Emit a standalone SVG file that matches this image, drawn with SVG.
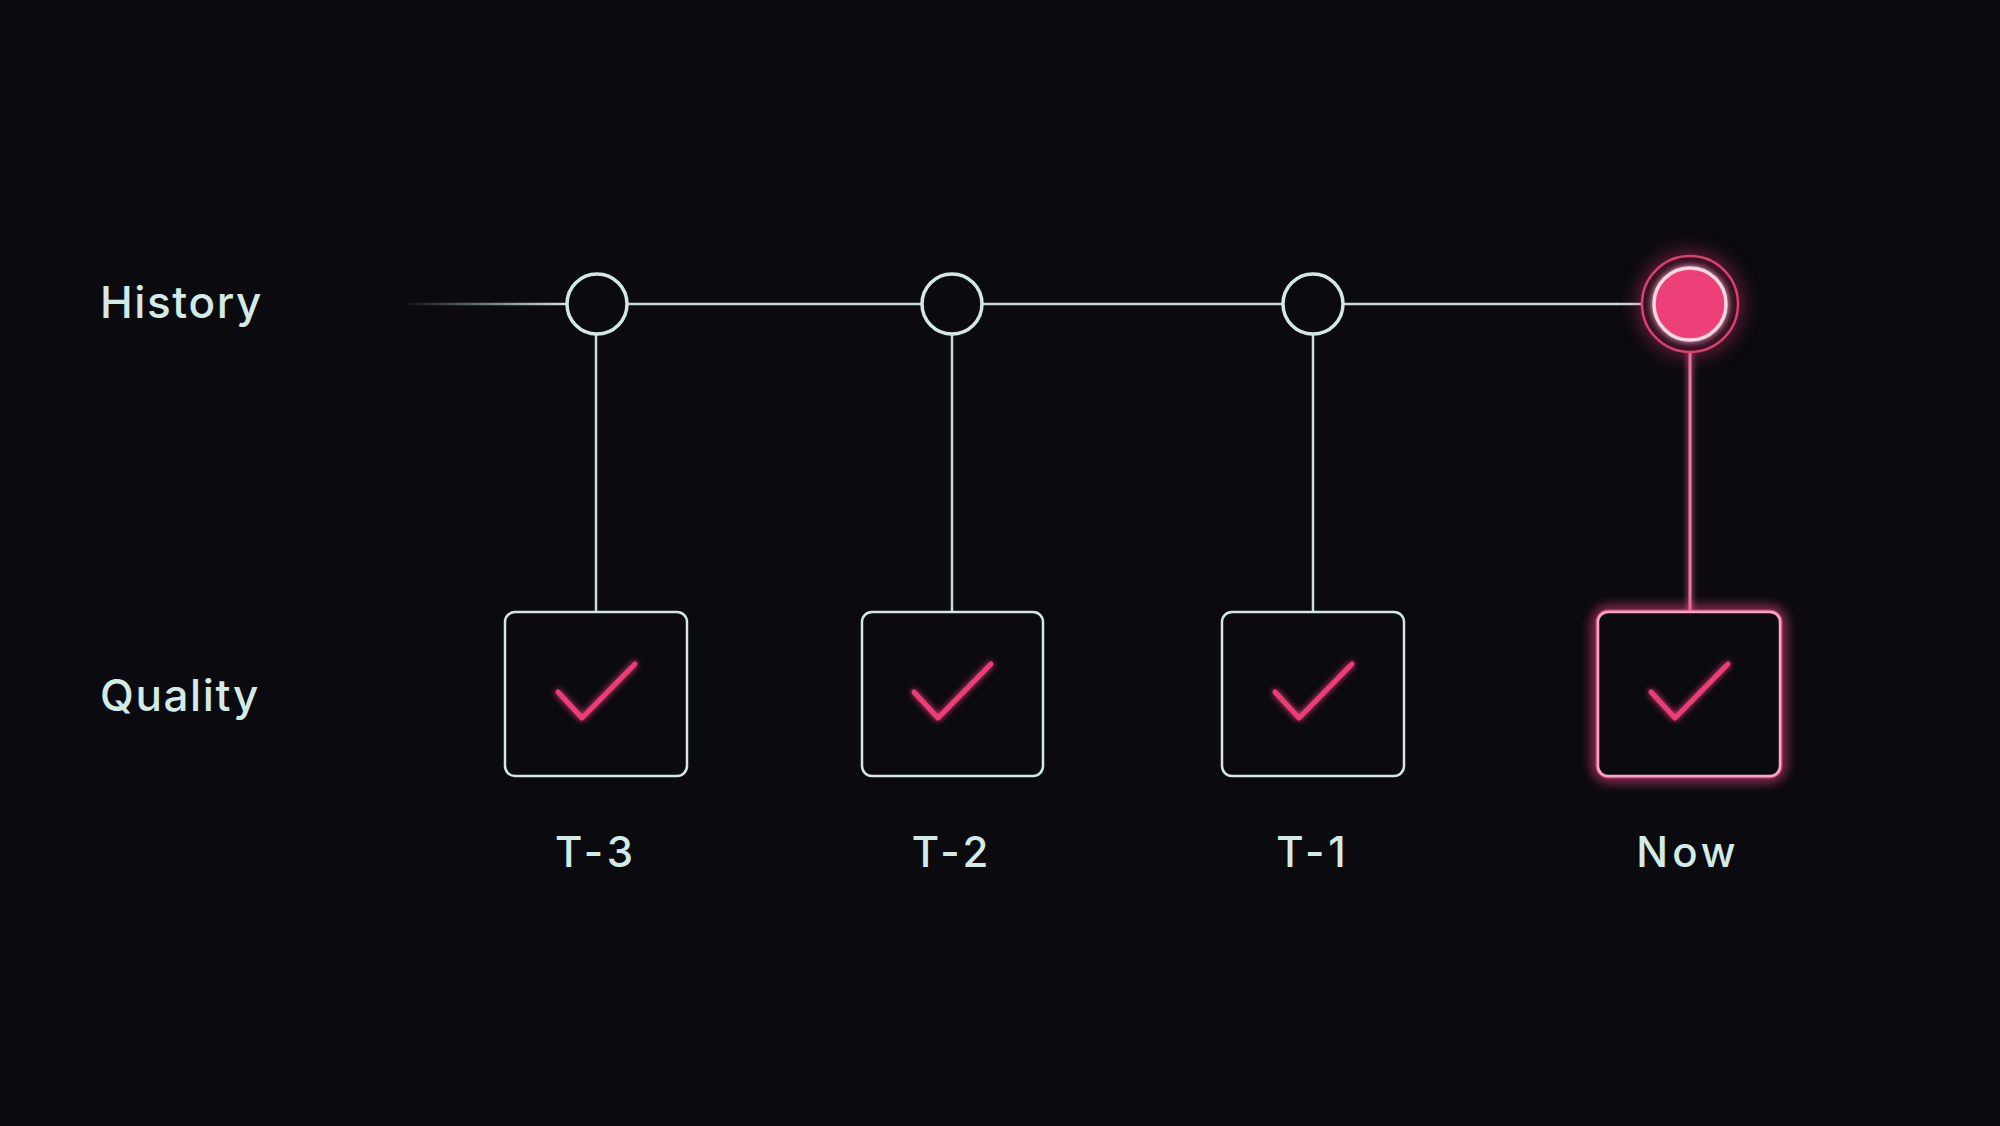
<svg xmlns="http://www.w3.org/2000/svg" width="2000" height="1126" viewBox="0 0 2000 1126">
  <defs>
    <style>
      .lbl { font-family: Inter, "Noto Sans", "Liberation Sans", sans-serif; font-size: 44px; fill: #d3ebe6; letter-spacing: 1.6px; font-weight: 500; }
      .tick { font-family: Inter, "Noto Sans", "Liberation Sans", sans-serif; font-size: 42px; fill: #d3ebe6; letter-spacing: 4px; text-anchor: middle; font-weight: 500; }
      .node { fill: #0a0a0f; stroke: #d3e8e3; stroke-width: 3.5; }
      .wire { stroke: #c9dcd8; stroke-width: 2.5; fill: none; }
      .box { fill: #0a0a0f; stroke: #d3e8e3; stroke-width: 2.5; }
      .check { fill: none; stroke: #ec3d77; stroke-width: 5; stroke-linecap: round; stroke-linejoin: round; }
    </style>
    <linearGradient id="fade" x1="400" y1="0" x2="560" y2="0" gradientUnits="userSpaceOnUse">
      <stop offset="0" stop-color="#c9dcd8" stop-opacity="0"/>
      <stop offset="1" stop-color="#c9dcd8" stop-opacity="1"/>
    </linearGradient>
    <filter id="glow" x="-50%" y="-50%" width="200%" height="200%">
      <feGaussianBlur stdDeviation="7" result="b"/>
      <feMerge><feMergeNode in="b"/><feMergeNode in="b"/><feMergeNode in="SourceGraphic"/></feMerge>
    </filter>
    <filter id="softglow" x="-30%" y="-30%" width="160%" height="160%">
      <feGaussianBlur stdDeviation="3" result="b"/>
      <feMerge><feMergeNode in="b"/><feMergeNode in="SourceGraphic"/></feMerge>
    </filter>
    <filter id="lineglow" filterUnits="userSpaceOnUse" x="1660" y="320" width="60" height="310">
      <feGaussianBlur stdDeviation="3" result="b"/>
      <feMerge><feMergeNode in="b"/><feMergeNode in="SourceGraphic"/></feMerge>
    </filter>
    <filter id="bigglow" x="-100%" y="-100%" width="300%" height="300%">
      <feGaussianBlur stdDeviation="10"/>
    </filter>
  </defs>
  <rect width="2000" height="1126" fill="#0a0a0f"/>

  <text class="lbl" x="100" y="318">History</text>
  <text class="lbl" x="100" y="711">Quality</text>

  <g id="connectors">
    <line x1="400" y1="304" x2="567" y2="304" stroke="url(#fade)" stroke-width="2.5"/>
    <line class="wire" x1="567" y1="304" x2="1660" y2="304"/>
    <line class="wire" x1="596" y1="334" x2="596" y2="612"/>
    <line class="wire" x1="952" y1="334" x2="952" y2="612"/>
    <line class="wire" x1="1313" y1="334" x2="1313" y2="612"/>
    <line x1="1690" y1="338" x2="1690" y2="612" stroke="#ec74a4" stroke-width="3" filter="url(#lineglow)"/>
  </g>

  <g id="h-t3"><circle class="node" cx="597" cy="304" r="30"/></g>
  <g id="h-t2"><circle class="node" cx="952" cy="304" r="30"/></g>
  <g id="h-t1"><circle class="node" cx="1313" cy="304" r="30"/></g>
  <g id="h-now">
    <circle cx="1690" cy="304" r="52" fill="#ff3d7f" opacity="0.4" filter="url(#bigglow)"/>
    <circle cx="1690" cy="304" r="48" fill="#3a0f22" stroke="#d8406f" stroke-width="2.5"/>
    <circle cx="1690" cy="304" r="36" fill="#ee3f78" stroke="#f6d6e2" stroke-width="3.5" filter="url(#softglow)"/>
  </g>

  <g id="q-t3">
    <rect class="box" x="505" y="612" width="182" height="164" rx="10"/>
    <polyline class="check" points="558,692 582,718 635,664" filter="url(#softglow)"/>
    <text class="tick" x="596" y="867">T-3</text>
  </g>
  <g id="q-t2">
    <rect class="box" x="862" y="612" width="181" height="164" rx="10"/>
    <polyline class="check" points="914,692 938,718 991,664" filter="url(#softglow)"/>
    <text class="tick" x="952" y="867">T-2</text>
  </g>
  <g id="q-t1">
    <rect class="box" x="1222" y="612" width="182" height="164" rx="10"/>
    <polyline class="check" points="1275,692 1299,718 1352,664" filter="url(#softglow)"/>
    <text class="tick" x="1313" y="867">T-1</text>
  </g>
  <g id="q-now">
    <rect x="1598" y="612" width="182" height="164" rx="10" fill="none" stroke="#ff4f92" stroke-width="5" opacity="0.8" filter="url(#glow)"/>
    <rect x="1598" y="612" width="182" height="164" rx="10" fill="#0a0a0f" stroke="#f7a8c8" stroke-width="2.5"/>
    <polyline class="check" points="1651,692 1675,718 1728,664" filter="url(#softglow)"/>
    <text class="tick" x="1688" y="867">Now</text>
  </g>
</svg>
